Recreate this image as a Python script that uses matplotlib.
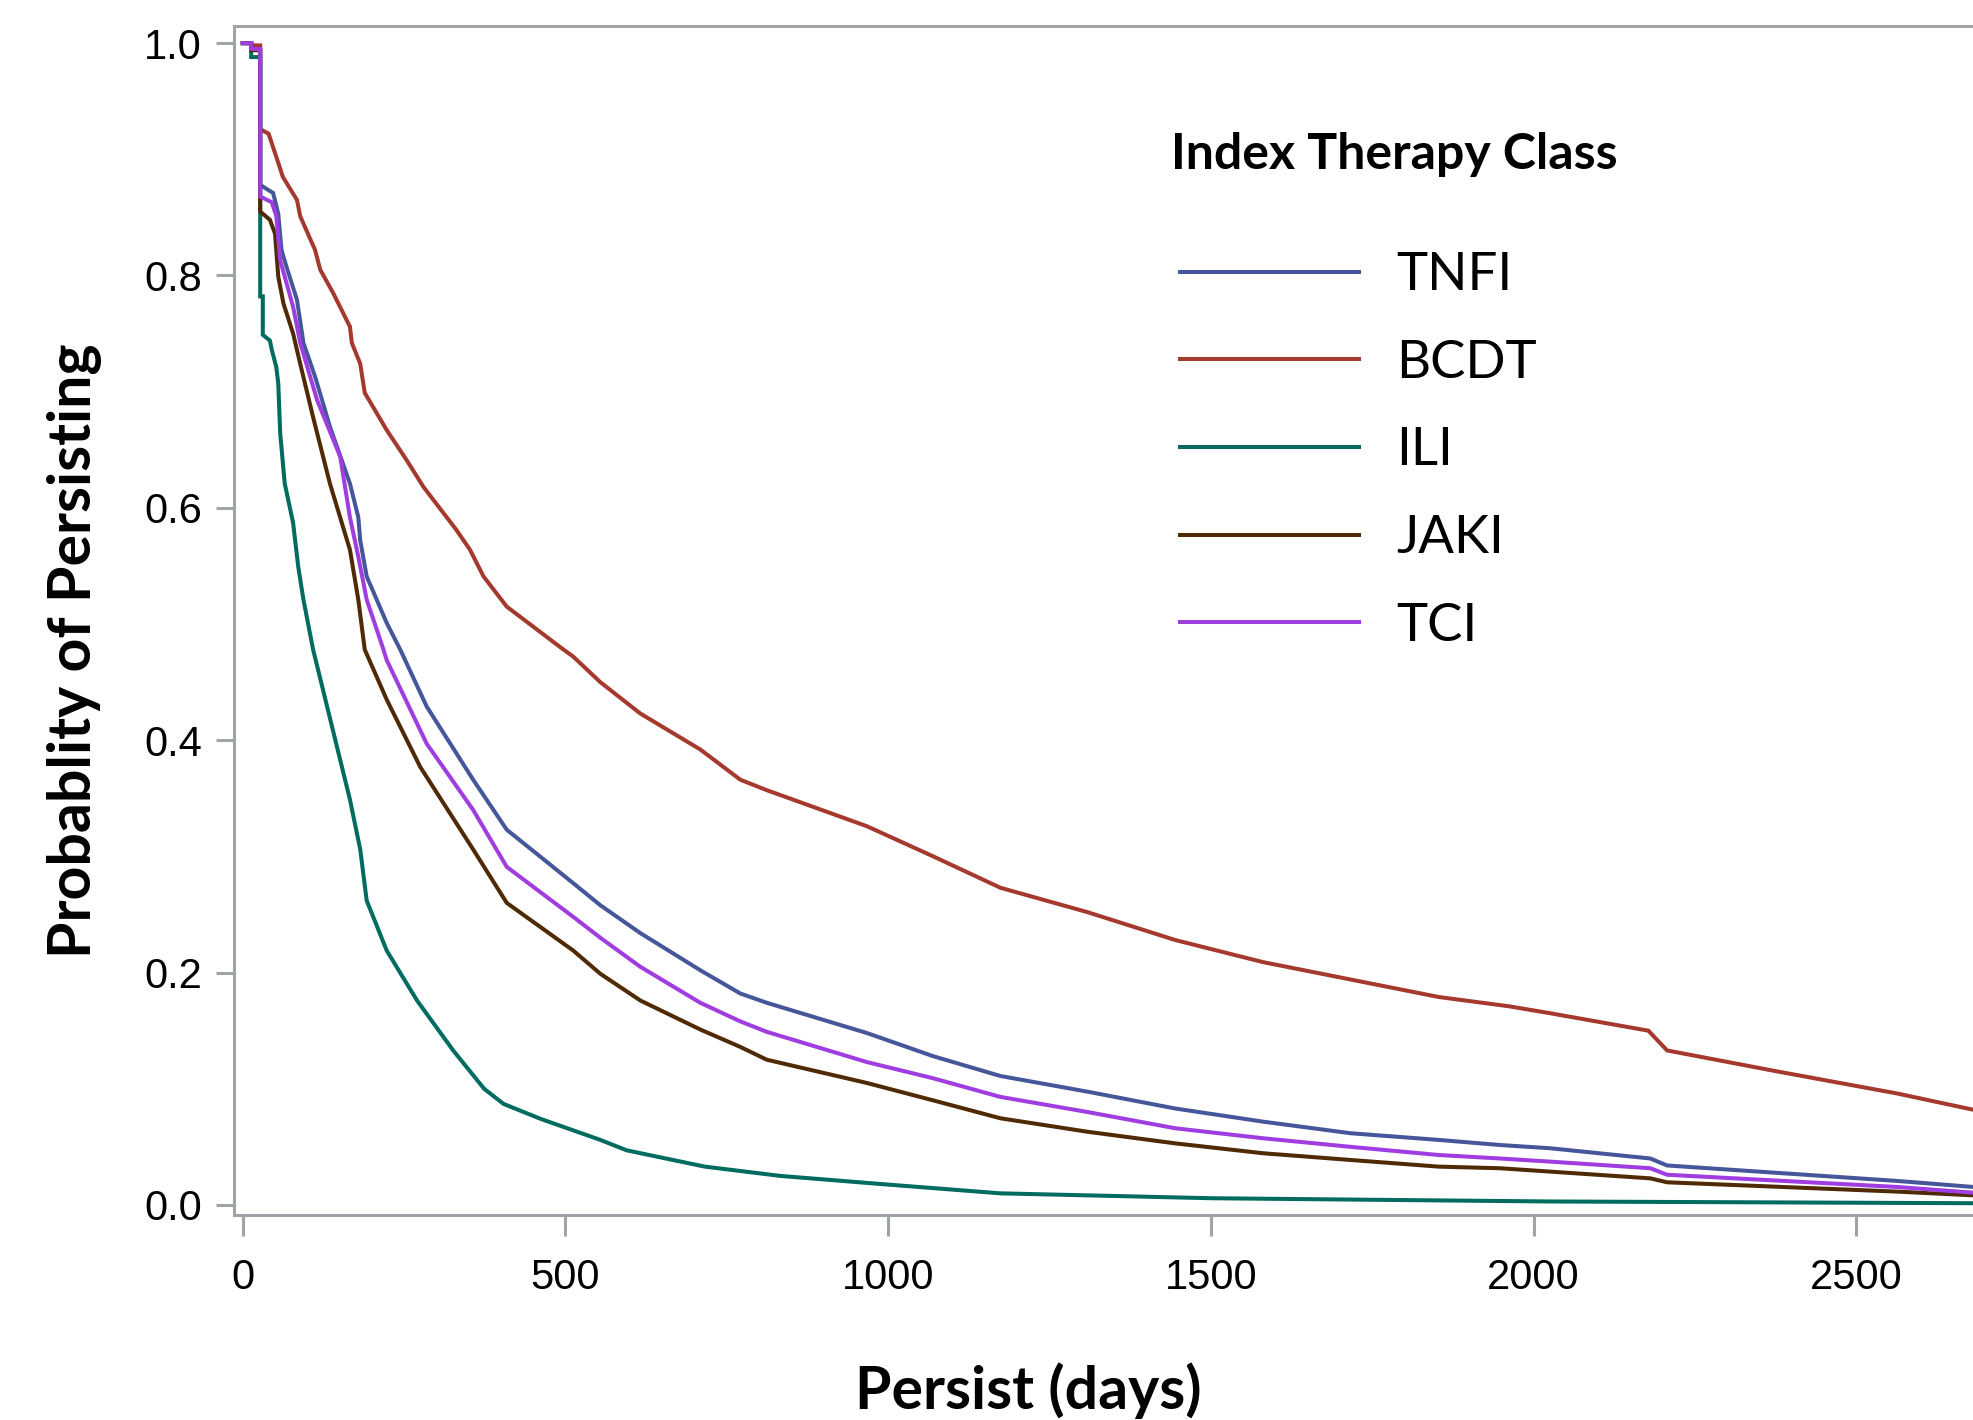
import numpy as np
import matplotlib
matplotlib.use("Agg")
from matplotlib import pyplot as plt
from matplotlib import font_manager

# ---------------- data (days, probability) ----------------
tnfi_days = [0, 13, 13, 27, 27, 47, 55, 60, 68, 84, 94, 112, 135, 166, 179, 182, 192, 223, 244, 285,
             357, 409, 512, 554, 616, 709, 771, 812, 967, 1070, 1174, 1309, 1445, 1581, 1717, 1853,
             1948, 2026, 2181, 2207, 2563, 2681]
tnfi_surv = [1.0, 1.0, 0.994, 0.994, 0.878, 0.871, 0.853, 0.822, 0.807, 0.779, 0.742, 0.713, 0.670,
             0.621, 0.592, 0.572, 0.541, 0.501, 0.478, 0.429, 0.366, 0.323, 0.277, 0.258, 0.234,
             0.202, 0.182, 0.174, 0.148, 0.128, 0.111, 0.0975, 0.083, 0.0717, 0.0617, 0.056,
             0.0516, 0.0488, 0.040, 0.034, 0.0207, 0.0155]

bcdt_days = [0, 13, 13, 27, 27, 40, 55, 62, 84, 89, 112, 120, 140, 166, 169, 182, 189, 223, 254, 280,
             331, 352, 373, 409, 497, 512, 554, 616, 709, 771, 812, 967, 1070, 1174, 1309, 1445, 1581,
             1717, 1853, 1962, 2026, 2178, 2207, 2377, 2563, 2681]
bcdt_surv = [1.0, 1.0, 0.998, 0.998, 0.926, 0.922, 0.897, 0.885, 0.865, 0.851, 0.822, 0.805, 0.785,
             0.756, 0.742, 0.724, 0.699, 0.667, 0.641, 0.618, 0.581, 0.564, 0.541, 0.515, 0.478,
             0.472, 0.450, 0.423, 0.392, 0.366, 0.357, 0.326, 0.300, 0.273, 0.252, 0.228, 0.209,
             0.194, 0.179, 0.171, 0.165, 0.150, 0.133, 0.115, 0.096, 0.082]

ili_days = [0, 13, 13, 27, 27, 31, 31, 42, 45, 52, 55, 58, 65, 78, 86, 94, 109, 166, 182, 192, 223,
            270, 326, 374, 404, 462, 554, 595, 716, 833, 989, 1174, 1500, 2026, 2681]
ili_surv = [1.0, 1.0, 0.988, 0.988, 0.782, 0.782, 0.749, 0.744, 0.736, 0.721, 0.707, 0.664, 0.621,
            0.587, 0.549, 0.521, 0.478, 0.349, 0.306, 0.262, 0.219, 0.176, 0.133, 0.100, 0.087,
            0.074, 0.056, 0.047, 0.033, 0.025, 0.018, 0.010, 0.0058, 0.003, 0.0015]

jaki_days = [0, 13, 13, 27, 27, 42, 50, 55, 63, 78, 89, 109, 135, 166, 179, 189, 223, 275, 357, 409,
             512, 554, 616, 709, 771, 812, 967, 1070, 1174, 1309, 1445, 1581, 1717, 1853, 1948, 2026,
             2181, 2207, 2563, 2681]
jaki_surv = [1.0, 1.0, 0.994, 0.994, 0.855, 0.848, 0.836, 0.799, 0.776, 0.750, 0.724, 0.678, 0.621,
             0.564, 0.521, 0.478, 0.435, 0.377, 0.306, 0.260, 0.219, 0.199, 0.176, 0.151, 0.136,
             0.125, 0.105, 0.090, 0.0746, 0.063, 0.053, 0.0445, 0.0387, 0.033, 0.0316, 0.0287,
             0.0229, 0.0195, 0.0115, 0.0083]

tci_days = [0, 13, 13, 27, 27, 45, 52, 58, 78, 89, 115, 151, 166, 179, 192, 218, 223, 285, 357, 409,
            512, 554, 616, 709, 771, 812, 967, 1070, 1174, 1309, 1445, 1581, 1717, 1853, 1948, 2026,
            2181, 2207, 2563, 2681]
tci_surv = [1.0, 1.0, 0.995, 0.995, 0.868, 0.863, 0.851, 0.813, 0.773, 0.742, 0.693, 0.644, 0.592,
            0.558, 0.521, 0.478, 0.469, 0.397, 0.340, 0.291, 0.248, 0.230, 0.205, 0.174, 0.158,
            0.149, 0.123, 0.109, 0.093, 0.080, 0.066, 0.0574, 0.050, 0.043, 0.040, 0.0373,
            0.0316, 0.026, 0.0155, 0.0106]

groups = ["TNFI", "BCDT", "ILI", "JAKI", "TCI"]
colors = ["#46569A", "#A5392E", "#006B5F", "#4F2A05", "#A03DE0"]
series = [(tnfi_days, tnfi_surv), (bcdt_days, bcdt_surv), (ili_days, ili_surv),
          (jaki_days, jaki_surv), (tci_days, tci_surv)]

x_ticks = [0, 500, 1000, 1500, 2000, 2500]
y_ticks = [0.0, 0.2, 0.4, 0.6, 0.8, 1.0]

# ---------------- fonts ----------------
names = {f.name for f in font_manager.fontManager.ttflist}
tick_font = "Liberation Sans Narrow" if "Liberation Sans Narrow" in names else "Liberation Sans"
label_font = "Lato"

grey = "#A0A3A7"

fig = plt.figure(figsize=(19.73, 14.2), dpi=100)
ax = fig.add_axes([0.1186, 0.1444, 0.8814, 0.8375])

for (d, s), name, c in zip(series, groups, colors):
    ax.plot(d, s, color=c, lw=2.9, label=name, solid_joinstyle="miter")

ax.set_xlim(-13.6, 2681)
ax.set_ylim(-0.0086, 1.015)
ax.set_xticks(x_ticks)
ax.set_yticks(y_ticks)
ax.set_yticklabels(["%.1f" % v for v in y_ticks])

for sp in ["left", "top", "bottom"]:
    ax.spines[sp].set_color(grey)
    ax.spines[sp].set_linewidth(2.2)
ax.spines["right"].set_visible(False)

ax.tick_params(axis="both", colors=grey, width=2.2, labelcolor="black")
ax.tick_params(axis="y", length=13, pad=10)
ax.tick_params(axis="x", length=15, pad=16)
for lab in ax.get_xticklabels() + ax.get_yticklabels():
    lab.set_fontfamily(tick_font)
    lab.set_fontsize(30)

fig.text(0.038, 0.5415, "Probablity of Persisting", rotation=90, ha="center", va="center",
         fontsize=42.5, fontweight="bold", family=label_font)
fig.text(0.521, 0.021, "Persist (days)", ha="center", va="center",
         fontsize=42.5, fontweight="bold", family=label_font)

# legend
fig.text(0.5935, 0.8915, "Index Therapy Class", ha="left", va="center",
         fontsize=36, fontweight="bold", family=label_font)
leg = ax.legend(loc="upper left", bbox_to_anchor=(0.5846, 0.841), bbox_transform=fig.transFigure,
                frameon=False, borderpad=0, handlelength=3.4, handletextpad=0.7,
                labelspacing=0.77, prop={"family": label_font, "size": 38})
for h in leg.get_lines():
    h.set_linewidth(2.9)

fig.savefig("out.png", dpi=100)
